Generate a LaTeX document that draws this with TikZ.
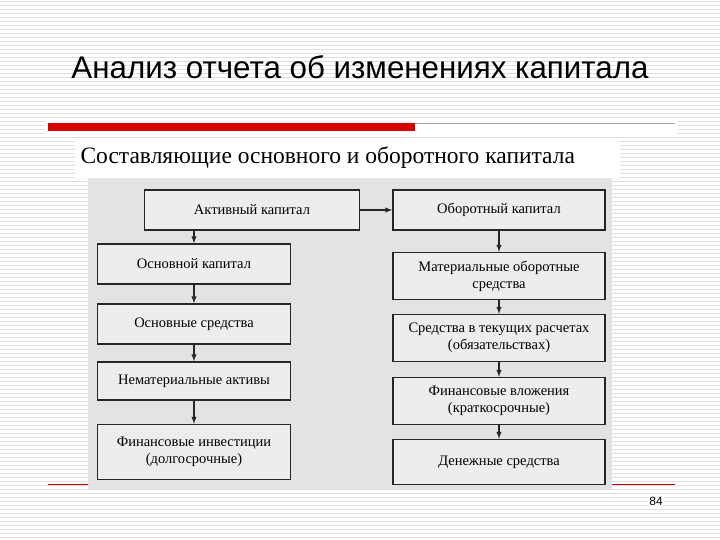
\documentclass[tikz,border=0pt]{standalone}
\usepackage{fontspec}
\setmainfont{Liberation Serif}
\newfontfamily\titlefont{Liberation Sans}
\begin{document}
\begin{tikzpicture}[x=1pt,y=-1pt,
  bx/.style={draw=black!85,line width=1.4pt,fill=white!93!black,align=center,font=\fontsize{14.5}{17}\selectfont,inner sep=0pt},
  arr/.style={-latex,line width=1.4pt,draw=black!85}]
\useasboundingbox (0,0) rectangle (720,540);
\fill[white] (0,0) rectangle (720,540);
\foreach \k in {0,...,134} \draw[gray!25,line width=0.8pt] (0,{\k*4+1.5}) -- (720,{\k*4+1.5});
\fill[white] (75,138) rectangle (620,180);
\node[font=\titlefont\fontsize{31.3}{34}\selectfont] (title) at (360,67) {Анализ отчета об изменениях капитала};
\fill[white] (45,118) rectangle (678,136);
\fill[red!85!black] (48,123) rectangle (415,131);
\draw[gray!70,line width=0.6pt] (415,123.5) -- (675,123.5);
\node[anchor=west,font=\fontsize{23.5}{26}\selectfont] (sub) at (77,158) {Составляющие основного и оборотного капитала};
\draw[red!80!black,line width=0.8pt] (48,484) -- (675,484);
\fill[gray!22] (88,178) rectangle (612,490);
\node[bx,minimum width=215pt,minimum height=40pt] (a) at (252,210) {Активный капитал};
\node[bx,minimum width=193pt,minimum height=40pt] (b) at (194,264) {Основной капитал};
\node[bx,minimum width=193pt,minimum height=40pt] (c) at (194,324) {Основные средства};
\node[bx,minimum width=193pt,minimum height=38pt] (d) at (194,381) {Нематериальные активы};
\node[bx,minimum width=193pt,minimum height=55pt] (e) at (194,452) {Финансовые инвестиции\\(долгосрочные)};
\node[bx,minimum width=212pt,minimum height=40pt] (f) at (499,210) {Оборотный капитал};
\node[bx,minimum width=212pt,minimum height=47pt] (g) at (499,276) {Материальные оборотные\\средства};
\node[bx,minimum width=212pt,minimum height=47pt] (h) at (499,338) {Средства в текущих расчетах\\(обязательствах)};
\node[bx,minimum width=212pt,minimum height=47pt] (i) at (499,401) {Финансовые вложения\\(краткосрочные)};
\node[bx,minimum width=212pt,minimum height=45pt] (j) at (499,462) {Денежные средства};
\draw[arr] (a) -- (f);
\draw[arr] (a.south -| b) -- (b);
\draw[arr] (b) -- (c);
\draw[arr] (c) -- (d);
\draw[arr] (d) -- (e);
\draw[arr] (f) -- (g);
\draw[arr] (g) -- (h);
\draw[arr] (h) -- (i);
\draw[arr] (i) -- (j);
\node[font=\titlefont\fontsize{12}{14}\selectfont,fill=white,inner sep=1pt] (pg) at (656,501) {84};
\end{tikzpicture}
\end{document}
